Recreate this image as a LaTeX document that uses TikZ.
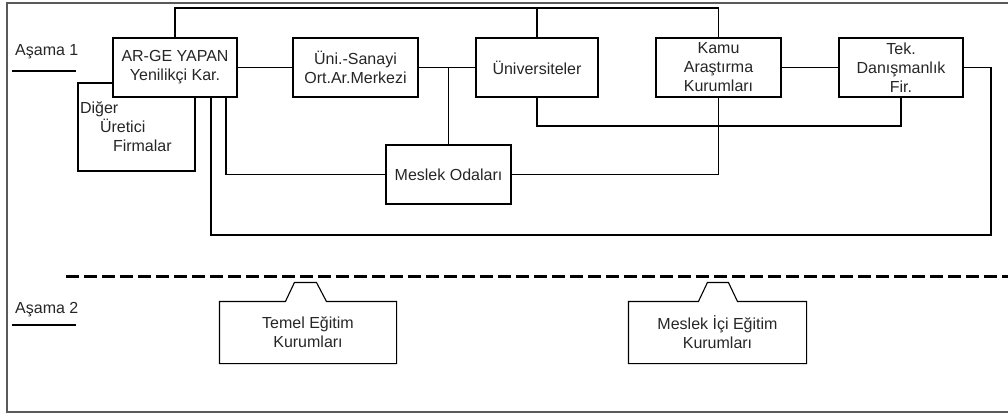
\documentclass[tikz,border=0pt]{standalone}
\usepackage{fontspec}
\setmainfont{Liberation Sans}
\begin{document}
\begin{tikzpicture}[x=1pt,y=-1pt,
  box/.style={draw=black, fill=white, line width=1.1pt, inner sep=0pt, align=center,
    text=black!85, font=\fontsize{16}{19}\selectfont, minimum width=124pt, minimum height=59pt},
  conn/.style={draw=black, line width=1.1pt},
  stage/.style={inner sep=0pt, anchor=west, text=black!85, font=\fontsize{16}{19}\selectfont},
  frame/.style={draw=black!65, line width=1.6pt},
  sep/.style={draw=black, line width=3pt, dash pattern=on 13pt off 5pt},
]
\useasboundingbox (0,0) rectangle (1008,414);
% frame (right side outside the picture)
\draw[frame] (1012,3) -- (7,3) -- (7,412) -- (1012,412);

% stage labels
\node[stage] (a1) at (15,52) {Aşama 1};
\draw[conn] (12,71) -- (76,71);
\node[stage] (a2) at (15,310) {Aşama 2};
\draw[conn] (12,325) -- (76,325);

% nodes of stage 1
\node[box, minimum width=117pt, minimum height=88pt, align=left, text width=113pt]
  (diger) at (136.5,127) {Diğer\\\hspace*{20pt}Üretici\\\hspace*{33pt}Firmalar};
\node[box] (arge) at (175,67.5) {AR-GE YAPAN\\Yenilikçi Kar.};
\node[box, minimum width=125pt] (usm) at (355.5,67.5) {Üni.-Sanayi\\Ort.Ar.Merkezi};
\node[box, minimum width=122pt] (univ) at (537,67.5) {Üniversiteler};
\node[box, minimum width=125pt] (kamu) at (718.5,67.5) {Kamu\\Araştırma\\Kurumları};
\node[box] (tek) at (901,67.5) {Tek.\\Danışmanlık\\Fir.};
\node[box, minimum width=125pt] (meslek) at (448.5,174.5) {Meslek Odaları};

% connectors
\coordinate (top) at (0,8);
\draw[conn] (arge.north) |- (top -| kamu.north) -- (kamu.north);
\draw[conn] (univ.north) -- (univ.north |- top);
\draw[conn] (arge.east) -- (usm.west);
\draw[conn] (usm.east) -- (univ.west);
\coordinate (j1) at (448.5,67.5);
\draw[conn] (j1) -- (meslek.north);
\draw[conn] (kamu.east) -- (tek.west);
\coordinate (c1) at (226,97);
\draw[conn] (c1) |- (meslek.west);
\draw[conn] (meslek.east) -| (kamu.south);
\coordinate (c2) at (0,126);
\draw[conn] (univ.south) |- (c2 -| tek.south) -- (tek.south);
\coordinate (c3) at (991,235);
\coordinate (c4) at (211,97);
\draw[conn] (tek.east) -| (c3) -| (c4);

% separator
\coordinate (s1) at (66,276);
\coordinate (s2) at (1012,276);
\draw[sep] (s1) -- (s2);

% stage 2 nodes
\node[box, draw=none, fill=none, minimum width=176pt, minimum height=61pt] (temel) at (308,332.5) {Temel Eğitim\\Kurumları};
\draw[conn] (temel.north west) -- ++(66,0) -- ++(9,-19) -- ++(22,0) -- ++(10,19)
  -- (temel.north east) -- (temel.south east) -- (temel.south west) -- cycle;
\node[box, draw=none, fill=none, minimum width=177pt, minimum height=61pt] (ici) at (717.5,332.5) {Meslek İçi Eğitim\\Kurumları};
\draw[conn] (ici.north west) -- ++(70,0) -- ++(9,-19) -- ++(21,0) -- ++(9,19)
  -- (ici.north east) -- (ici.south east) -- (ici.south west) -- cycle;
\end{tikzpicture}
\end{document}
